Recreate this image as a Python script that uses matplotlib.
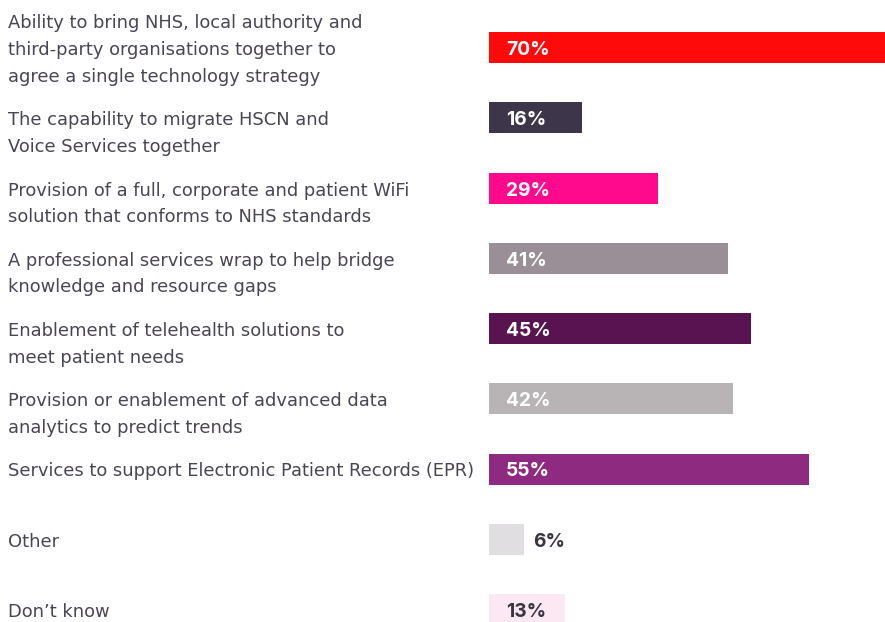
import matplotlib
matplotlib.use("Agg")
import matplotlib.pyplot as plt
from matplotlib.transforms import blended_transform_factory

categories = [
    "Ability to bring NHS, local authority and\nthird-party organisations together to\nagree a single technology strategy",
    "The capability to migrate HSCN and\nVoice Services together",
    "Provision of a full, corporate and patient WiFi\nsolution that conforms to NHS standards",
    "A professional services wrap to help bridge\nknowledge and resource gaps",
    "Enablement of telehealth solutions to\nmeet patient needs",
    "Provision or enablement of advanced data\nanalytics to predict trends",
    "Services to support Electronic Patient Records (EPR)",
    "Other",
    "Don\u2019t know",
]
values = [70, 16, 29, 41, 45, 42, 55, 6, 13]
value_labels = ["70%", "16%", "29%", "41%", "45%", "42%", "55%", "6%", "13%"]
colors = ["#FF0A0A", "#3D3549", "#FF0A8C", "#9A8F96", "#581350",
          "#B8B3B5", "#8E2A80", "#E0DEE0", "#FBE8F3"]
label_colors = ["white"] * 7 + ["#3A3541", "#3A3541"]

W, H = 885, 622
fig = plt.figure(figsize=(W / 100, H / 100), dpi=100)
x0 = 489
px_per_unit = 5.82
ax = fig.add_axes([x0 / W, 0, 1 - x0 / W, 1])
ax.set_xlim(0, (W - x0) / px_per_unit)
spacing = 70.25
c0 = 47.5
ax.set_ylim((H - c0) / spacing, -c0 / spacing)
ax.axis("off")

ypos = list(range(len(values)))
ax.barh(ypos, values, height=31 / spacing, color=colors, align="center")

vfont = ["Inter", "DejaVu Sans"]
for i, (v, lab, lc) in enumerate(zip(values, value_labels, label_colors)):
    if v < 10:
        x = v + 9 / px_per_unit
    else:
        x = 17 / px_per_unit
    ax.text(x, i + 7.5 / spacing, lab, va="baseline", ha="left", color=lc,
            fontsize=13.8, fontweight="bold", family=vfont)

tfont = ["DejaVu Sans"]
line_h = 26.6 / spacing
base_off = 7.5 / spacing
tr = blended_transform_factory(fig.transFigure, ax.transData)
for i, cat in enumerate(categories):
    lines = cat.split("\n")
    shift = (len(lines) - 1) // 2
    for j, line in enumerate(lines):
        fig.text(8 / W, i + base_off + (j - shift) * line_h, line,
                 transform=tr, va="baseline", ha="left", fontsize=12.9,
                 color="#4A4552", family=tfont)

fig.savefig("out.png", dpi=100)
